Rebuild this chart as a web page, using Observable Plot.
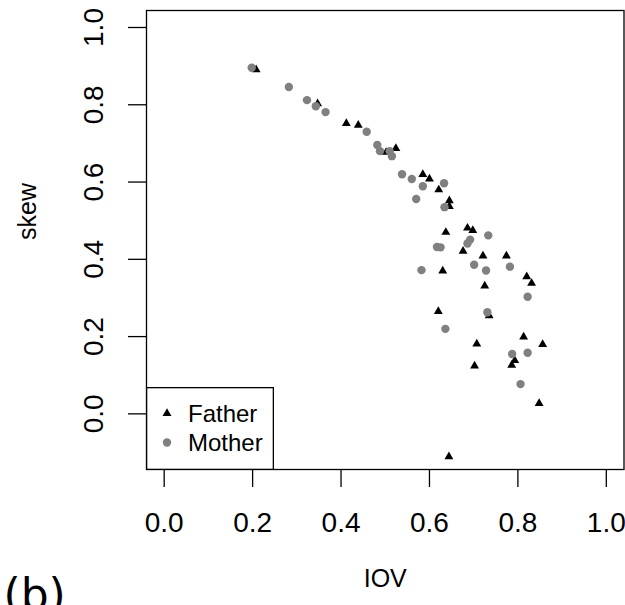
<!DOCTYPE html>
<html><head><meta charset="utf-8">
<script src="https://cdn.jsdelivr.net/npm/d3@7"></script>
<script src="https://cdn.jsdelivr.net/npm/@observablehq/plot@0.6"></script>
<style>
body{margin:0;background:#fff;}
#wrap{position:relative;width:625px;height:605px;overflow:hidden;}
#legend{position:absolute;left:146px;top:387px;}
</style></head><body><div id="wrap"></div>
<script>
const seriesNames = ["Father", "Mother"];
const seriesColors = ["#000000", "#808080"];
const xTicks = [0, 0.2, 0.4, 0.6, 0.8, 1.0];
const yTicks = [0, 0.2, 0.4, 0.6, 0.8, 1.0];
const xLabel = "IOV";
const yLabel = "skew";
const panelTag = "(b)";

const fatherIOV = [0.208, 0.347, 0.412, 0.439, 0.502, 0.524, 0.585, 0.600, 0.621, 0.645, 0.645,
  0.637, 0.686, 0.698, 0.676, 0.721, 0.774, 0.630, 0.820, 0.831, 0.725, 0.620, 0.735,
  0.813, 0.707, 0.856, 0.793, 0.786, 0.702, 0.848, 0.644];
const fatherSkew = [0.891, 0.803, 0.752, 0.747, 0.677, 0.687, 0.620, 0.608, 0.580, 0.552, 0.537,
  0.470, 0.481, 0.475, 0.421, 0.409, 0.409, 0.370, 0.355, 0.338, 0.331, 0.265, 0.254,
  0.199, 0.181, 0.180, 0.138, 0.126, 0.124, 0.027, -0.111];

const motherIOV = [0.198, 0.282, 0.323, 0.343, 0.365, 0.458, 0.482, 0.488, 0.510, 0.515, 0.538,
  0.560, 0.585, 0.633, 0.570, 0.634, 0.692, 0.686, 0.733, 0.617, 0.625, 0.701, 0.728,
  0.782, 0.582, 0.822, 0.731, 0.636, 0.787, 0.822, 0.806];
const motherSkew = [0.896, 0.846, 0.812, 0.796, 0.781, 0.730, 0.696, 0.680, 0.680, 0.667, 0.620,
  0.608, 0.589, 0.597, 0.556, 0.535, 0.451, 0.441, 0.462, 0.432, 0.431, 0.386, 0.371,
  0.381, 0.372, 0.303, 0.263, 0.220, 0.155, 0.158, 0.077];

const father = fatherIOV.map((v, i) => ({iov: v, skew: fatherSkew[i]}));
const mother = motherIOV.map((v, i) => ({iov: v, skew: motherSkew[i]}));

const fmt = d3.format(".1f");
const font = "'Liberation Sans', Arial, Helvetica, sans-serif";

const chart = Plot.plot({
  width: 625, height: 605,
  marginLeft: 146, marginRight: 1.5, marginTop: 10, marginBottom: 136,
  style: {fontFamily: font, background: "#fff", color: "#000"},
  x: {domain: [-0.04, 1.04]},
  y: {domain: [-0.144, 1.044]},
  marks: [
    Plot.axisX({ticks: xTicks, tickFormat: fmt, tickSize: 18, tickPadding: 25, fontSize: 28, label: null, strokeWidth: 1.3}),
    Plot.axisY({ticks: yTicks, tickFormat: fmt, tickSize: 18, tickPadding: 26, tickRotate: -90, fontSize: 28, label: null, strokeWidth: 1.3}),
    Plot.dot(father, {x: "iov", y: "skew", symbol: "triangle", r: 3.3, fill: seriesColors[0], stroke: "none"}),
    Plot.dot(mother, {x: "iov", y: "skew", symbol: "circle", r: 4.2, fill: seriesColors[1], stroke: "none"}),
    Plot.frame({stroke: "#000", strokeWidth: 1.3}),
    Plot.text([xLabel], {frameAnchor: "bottom", dy: 109, fontSize: 25, lineAnchor: "middle"}),
    Plot.text([yLabel], {frameAnchor: "left", dx: -118.5, rotate: -90, fontSize: 25, lineAnchor: "middle"}),
    Plot.text([panelTag], {frameAnchor: "bottom-left", dx: -143, dy: 126, textAnchor: "start", lineAnchor: "middle", fontSize: 44, fontFamily: "'DejaVu Sans', sans-serif"})
  ]
});
const wrap = document.getElementById("wrap");
wrap.appendChild(chart);

// legend box inside the plot area (bottom-left corner)
const lg = d3.select(wrap).append("svg").attr("id", "legend")
  .attr("width", 128).attr("height", 83);
lg.append("rect").attr("x", 0.65).attr("y", 0.65).attr("width", 126.7).attr("height", 81.7)
  .attr("fill", "#fff").attr("stroke", "#000").attr("stroke-width", 1.3);
const sym = [d3.symbolTriangle, d3.symbolCircle];
const rr = [3.3, 4.2];
seriesNames.forEach((name, i) => {
  const cy = 26.5 + i * 29;
  lg.append("path").attr("d", d3.symbol(sym[i], Math.PI * rr[i] * rr[i])())
    .attr("transform", `translate(21,${cy})`).attr("fill", seriesColors[i]);
  lg.append("text").attr("x", 42).attr("y", cy).attr("dy", "0.35em")
    .attr("font-family", font).attr("font-size", 24).attr("fill", "#000").text(name);
});
</script></body></html>
